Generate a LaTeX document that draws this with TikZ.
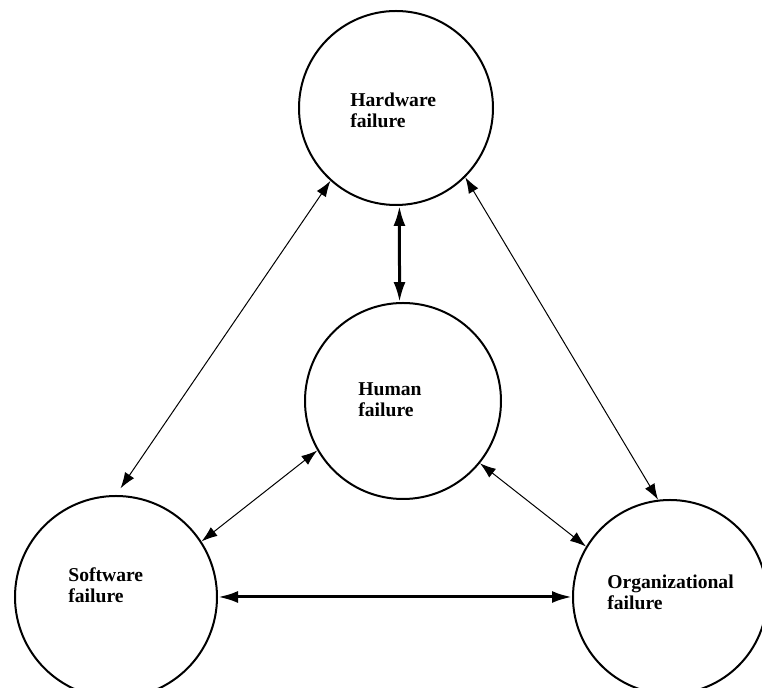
\documentclass[tikz,border=0pt]{standalone}
\usepackage{fontspec}
\setmainfont{Liberation Serif}
\usetikzlibrary{arrows.meta}
\begin{document}
\begin{tikzpicture}[x=0.5pt,y=-0.5pt,
  failure/.style={circle,draw,line width=1pt,minimum size=#1,inner sep=0pt},
  caption/.style={anchor=base west,inner sep=0pt,align=left,
    font=\fontsize{9.8}{10.5}\selectfont\bfseries},
  link/.style={{Latex[length=8pt,width=5.5pt]}-{Latex[length=8pt,width=5.5pt]},line width=0.5pt},
  mainlink/.style={{Latex[length=10pt,width=6pt]}-{Latex[length=10pt,width=6pt]},line width=1.5pt}]
\useasboundingbox (0,0) rectangle (762,688);
\clip (0,0) rectangle (762,688);

% the four kinds of failure
\node[failure=97pt]  (hw) at (396,108) {};
\node[failure=98pt]  (hu) at (403,401) {};
\node[failure=101pt] (sw) at (116,597) {};
\node[failure=97pt]  (og) at (670,597) {};

% captions, placed by the baseline of their last line
\node[caption] (hwtext) at (350,128) {Hardware\\failure};
\node[caption] (hutext) at (358,417) {Human\\failure};
\node[caption] (swtext) at (68,603)  {Software\\failure};
\node[caption] (ogtext) at (607,610) {Organizational\\failure};

% interactions between them
\draw[mainlink] (hw.272) -- (hu.92);
\draw[mainlink] (sw.east) -- (og.west);
\draw[link, shorten >=4pt] (hw.228) -- (sw.north);
\draw[link] (hw.315) -- (og.97);
\draw[link] (hu.210) -- (sw.33);
\draw[link] (hu.321) -- (og.149);
\end{tikzpicture}
\end{document}
